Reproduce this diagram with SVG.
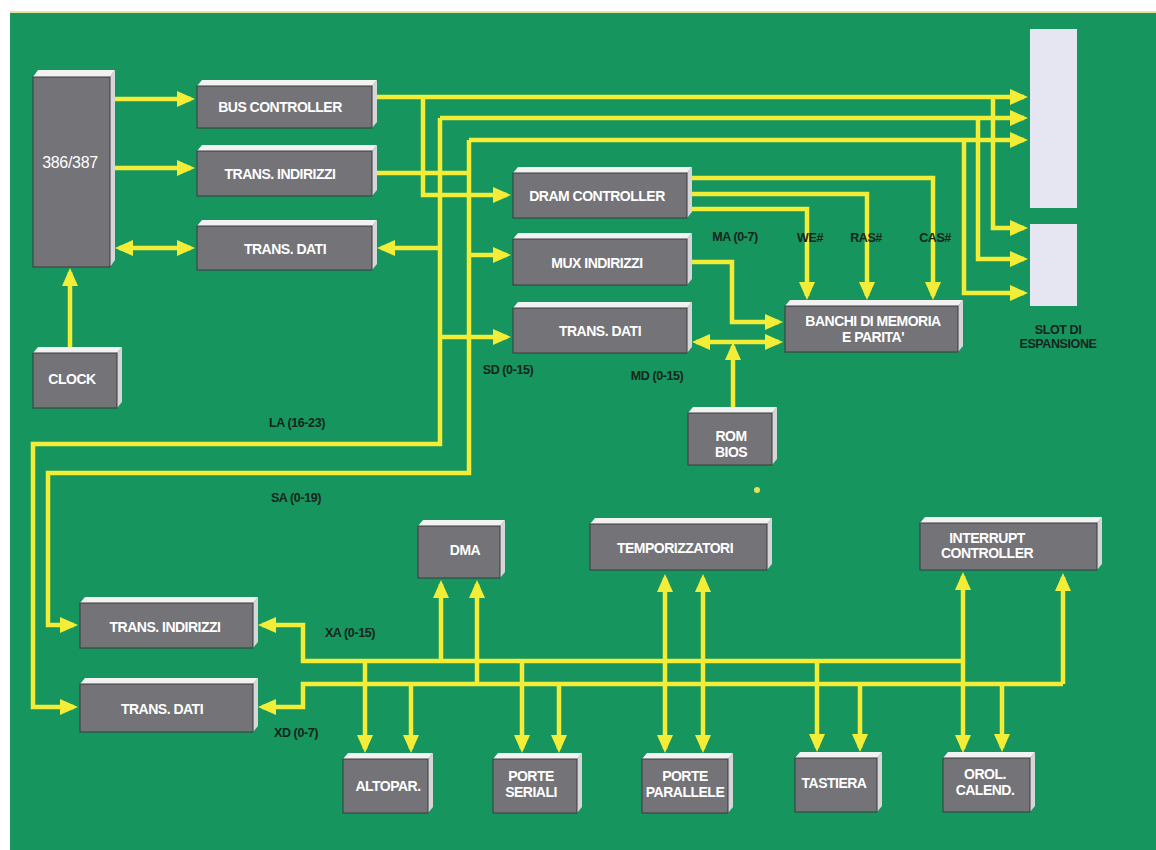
<svg xmlns="http://www.w3.org/2000/svg" width="1156" height="850" viewBox="0 0 1156 850">
<defs>
<marker id="ar" markerUnits="userSpaceOnUse" markerWidth="18" markerHeight="16" refX="14" refY="8" orient="auto-start-reverse"><path d="M0,0 L18,8 L0,16 z" fill="#f3ed38"/></marker>
<style>
.face{fill:#737378;stroke:#3b3b3e;stroke-width:1}
.top{fill:#f2f2f2}
.side{fill:#d6d6d8}
.t{font-family:"Liberation Sans",Arial,sans-serif;font-weight:bold;font-size:14px;fill:#ffffff;text-anchor:middle;letter-spacing:-0.5px}
.l{font-family:"Liberation Sans",Arial,sans-serif;font-weight:bold;font-size:12.5px;fill:#17241c;text-anchor:middle;letter-spacing:-0.4px}
.c{fill:none;stroke:#f3ed38;stroke-width:4.5;stroke-linejoin:miter}
.s{marker-end:url(#ar)}
.d{marker-start:url(#ar);marker-end:url(#ar)}
.slot{fill:#e6e6f2}
</style>
</defs>
<rect x="0" y="0" width="1156" height="850" fill="#ffffff"/>
<rect x="10" y="12" width="1146" height="838" fill="#16955e"/>
<line x1="10" y1="12" x2="1156" y2="12" stroke="#e4e49a" stroke-width="2"/>

<g id="connectors">
<path class="c s" d="M113 99 H191"/>
<path class="c s" d="M110 168 H191"/>
<path class="c d" d="M119 248 H191"/>
<path class="c s" d="M70 353 V272"/>

<path class="c s" d="M377 97 H1024"/>
<path class="c s" d="M423 97 V195 H507"/>
<path class="c s" d="M993 97 V228 H1024"/>

<path class="c s" d="M440 118 H1024"/>
<path class="c s" d="M440 118 V444 H33 V707 H74"/>
<path class="c s" d="M978 118 V259 H1024"/>
<path class="c s" d="M440 248 H381"/>
<path class="c s" d="M440 337 H507"/>

<path class="c s" d="M469 140 H1024"/>
<path class="c s" d="M469 140 V473 H48 V625 H74"/>
<path class="c s" d="M964 140 V293 H1024"/>
<path class="c" d="M377 173 H469"/>
<path class="c s" d="M469 255 H507"/>

<path class="c s" d="M692 178 H933 V296"/>
<path class="c s" d="M692 194 H867 V296"/>
<path class="c s" d="M692 209 H807 V296"/>
<path class="c s" d="M692 262 H732 V322 H779"/>
<path class="c d" d="M696 342 H779"/>
<path class="c s" d="M733 407 V346"/>

<path class="c s" d="M963 661 H303 V625 H262"/>
<path class="c s" d="M1063 684 H303 V707 H262"/>
<path class="c s" d="M1063 684 V577"/>
<path class="c d" d="M963 576 V749"/>
<path class="c s" d="M365 661 V749"/>
<path class="c s" d="M411 684 V749"/>
<path class="c s" d="M522 661 V749"/>
<path class="c s" d="M559 684 V749"/>
<path class="c s" d="M817 661 V748"/>
<path class="c s" d="M860 684 V748"/>
<path class="c s" d="M1002 684 V748"/>
<path class="c s" d="M441 661 V584"/>
<path class="c s" d="M477 684 V584"/>
<path class="c d" d="M665 578 V749"/>
<path class="c d" d="M703 578 V749"/>
<circle cx="757" cy="490" r="3" fill="#e8e25a"/>
</g>

<g id="cpu">
<polygon class="top" points="33,77 38,70 115,70 110,77"/>
<polygon class="side" points="110,77 115,70 115,260 110,267"/>
<rect class="face" x="33" y="77" width="77" height="190"/>
<text class="t" x="70" y="168" style="font-weight:normal;font-size:16px;letter-spacing:-0.3px">386/387</text>
</g>
<g id="bus-controller">
<polygon class="top" points="197,86 202,80 377,80 372,86"/>
<polygon class="side" points="372,86 377,80 377,122 372,128"/>
<rect class="face" x="197" y="86" width="175" height="42"/>
<text class="t" x="280" y="112">BUS CONTROLLER</text>
</g>
<g id="trans-indirizzi-1">
<polygon class="top" points="197,151 202,145 377,145 372,151"/>
<polygon class="side" points="372,151 377,145 377,190 372,196"/>
<rect class="face" x="197" y="151" width="175" height="45"/>
<text class="t" x="280" y="179">TRANS. INDIRIZZI</text>
</g>
<g id="trans-dati-1">
<polygon class="top" points="197,226 202,220 377,220 372,226"/>
<polygon class="side" points="372,226 377,220 377,264 372,270"/>
<rect class="face" x="197" y="226" width="175" height="44"/>
<text class="t" x="285" y="254">TRANS. DATI</text>
</g>
<g id="clock">
<polygon class="top" points="33,353 38,347 122,347 117,353"/>
<polygon class="side" points="117,353 122,347 122,402 117,408"/>
<rect class="face" x="33" y="353" width="84" height="55"/>
<text class="t" x="72" y="384">CLOCK</text>
</g>
<g id="dram-controller">
<polygon class="top" points="513,173 518,167 692,167 687,173"/>
<polygon class="side" points="687,173 692,167 692,212 687,218"/>
<rect class="face" x="513" y="173" width="174" height="45"/>
<text class="t" x="597" y="201">DRAM CONTROLLER</text>
</g>
<g id="mux-indirizzi">
<polygon class="top" points="513,239 518,233 692,233 687,239"/>
<polygon class="side" points="687,239 692,233 692,279 687,285"/>
<rect class="face" x="513" y="239" width="174" height="46"/>
<text class="t" x="597" y="268">MUX INDIRIZZI</text>
</g>
<g id="trans-dati-2">
<polygon class="top" points="513,308 518,302 692,302 687,308"/>
<polygon class="side" points="687,308 692,302 692,347 687,353"/>
<rect class="face" x="513" y="308" width="174" height="45"/>
<text class="t" x="600" y="336">TRANS. DATI</text>
</g>
<g id="banchi">
<polygon class="top" points="785,306 790,300 963,300 958,306"/>
<polygon class="side" points="958,306 963,300 963,346 958,352"/>
<rect class="face" x="785" y="306" width="173" height="46"/>
<text class="t" x="873" y="326">BANCHI DI MEMORIA</text>
<text class="t" x="873" y="342">E PARITA'</text>
</g>
<g id="slot">
<rect class="slot" x="1030" y="29" width="47" height="179"/>
<rect class="slot" x="1030" y="224" width="47" height="82"/>
<text class="l" x="1058" y="334">SLOT DI</text>
<text class="l" x="1058" y="348">ESPANSIONE</text>
</g>
<g id="rom-bios">
<polygon class="top" points="688,413 693,407 777,407 772,413"/>
<polygon class="side" points="772,413 777,407 777,459 772,465"/>
<rect class="face" x="688" y="413" width="84" height="52"/>
<text class="t" x="731" y="441">ROM</text>
<text class="t" x="731" y="457">BIOS</text>
</g>
<g id="dma">
<polygon class="top" points="418,526 423,520 505,520 500,526"/>
<polygon class="side" points="500,526 505,520 505,572 500,578"/>
<rect class="face" x="418" y="526" width="82" height="52"/>
<text class="t" x="465" y="555">DMA</text>
</g>
<g id="temporizzatori">
<polygon class="top" points="590,524 595,518 772,518 767,524"/>
<polygon class="side" points="767,524 772,518 772,564 767,570"/>
<rect class="face" x="590" y="524" width="177" height="46"/>
<text class="t" x="675" y="553">TEMPORIZZATORI</text>
</g>
<g id="interrupt-controller">
<polygon class="top" points="920,523 925,517 1102,517 1097,523"/>
<polygon class="side" points="1097,523 1102,517 1102,564 1097,570"/>
<rect class="face" x="920" y="523" width="177" height="47"/>
<text class="t" x="987" y="543">INTERRUPT</text>
<text class="t" x="987" y="558">CONTROLLER</text>
</g>
<g id="trans-indirizzi-2">
<polygon class="top" points="80,603 85,597 258,597 253,603"/>
<polygon class="side" points="253,603 258,597 258,642 253,648"/>
<rect class="face" x="80" y="603" width="173" height="45"/>
<text class="t" x="165" y="632">TRANS. INDIRIZZI</text>
</g>
<g id="trans-dati-3">
<polygon class="top" points="80,684 85,678 258,678 253,684"/>
<polygon class="side" points="253,684 258,678 258,726 253,732"/>
<rect class="face" x="80" y="684" width="173" height="48"/>
<text class="t" x="162" y="714">TRANS. DATI</text>
</g>
<g id="altopar">
<polygon class="top" points="343,759 348,753 433,753 428,759"/>
<polygon class="side" points="428,759 433,753 433,807 428,813"/>
<rect class="face" x="343" y="759" width="85" height="54"/>
<text class="t" x="388" y="791">ALTOPAR.</text>
</g>
<g id="porte-seriali">
<polygon class="top" points="493,759 498,753 582,753 577,759"/>
<polygon class="side" points="577,759 582,753 582,807 577,813"/>
<rect class="face" x="493" y="759" width="84" height="54"/>
<text class="t" x="531" y="781">PORTE</text>
<text class="t" x="531" y="797">SERIALI</text>
</g>
<g id="porte-parallele">
<polygon class="top" points="642,759 647,753 733,753 728,759"/>
<polygon class="side" points="728,759 733,753 733,807 728,813"/>
<rect class="face" x="642" y="759" width="86" height="54"/>
<text class="t" x="685" y="781">PORTE</text>
<text class="t" x="685" y="797">PARALLELE</text>
</g>
<g id="tastiera">
<polygon class="top" points="795,758 800,752 882,752 877,758"/>
<polygon class="side" points="877,758 882,752 882,806 877,812"/>
<rect class="face" x="795" y="758" width="82" height="54"/>
<text class="t" x="834" y="788">TASTIERA</text>
</g>
<g id="orol-calend">
<polygon class="top" points="943,758 948,752 1035,752 1030,758"/>
<polygon class="side" points="1030,758 1035,752 1035,806 1030,812"/>
<rect class="face" x="943" y="758" width="87" height="54"/>
<text class="t" x="985" y="779">OROL.</text>
<text class="t" x="985" y="795">CALEND.</text>
</g>

<g id="labels">
<text class="l" x="735" y="241">MA (0-7)</text>
<text class="l" x="810" y="242">WE#</text>
<text class="l" x="866" y="242">RAS#</text>
<text class="l" x="935" y="242">CAS#</text>
<text class="l" x="508" y="374">SD (0-15)</text>
<text class="l" x="657" y="380">MD (0-15)</text>
<text class="l" x="297" y="427">LA (16-23)</text>
<text class="l" x="296" y="502">SA (0-19)</text>
<text class="l" x="350" y="637">XA (0-15)</text>
<text class="l" x="296" y="737">XD (0-7)</text>
</g>
</svg>
